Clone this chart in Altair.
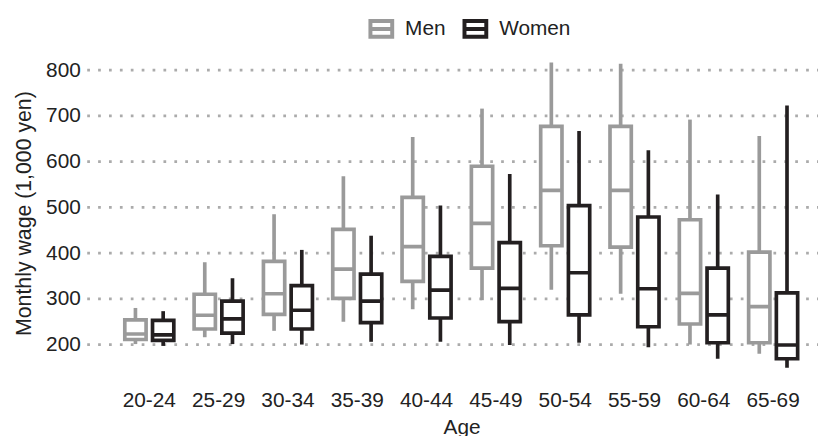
import altair as alt
import pandas as pd

ages = ["20-24", "25-29", "30-34", "35-39", "40-44", "45-49", "50-54", "55-59", "60-64", "65-69"]

men_min = [201, 216, 230, 250, 277, 297, 320, 311, 200, 180]
men_q1 = [211, 234, 266, 301, 338, 367, 416, 413, 245, 204]
men_med = [223, 264, 311, 365, 414, 465, 537, 537, 312, 283]
men_q3 = [254, 310, 382, 452, 522, 590, 677, 677, 473, 402]
men_max = [280, 380, 485, 568, 654, 716, 817, 814, 692, 656]

women_min = [197, 201, 200, 206, 206, 199, 204, 194, 169, 149]
women_q1 = [209, 225, 234, 248, 258, 250, 265, 239, 204, 169]
women_med = [221, 256, 275, 295, 319, 323, 357, 322, 265, 199]
women_q3 = [253, 295, 329, 354, 393, 423, 504, 479, 367, 313]
women_max = [273, 345, 407, 438, 504, 573, 667, 625, 528, 723]

sexes = ["Men", "Women"]
colors = ["#9a9a9a", "#231f20"]
y_ticks = [200, 300, 400, 500, 600, 700, 800]

rows = []
for i, a in enumerate(ages):
    rows.append(dict(age=a, sex="Men", lo=men_min[i], q1=men_q1[i], med=men_med[i], q3=men_q3[i], hi=men_max[i]))
for i, a in enumerate(ages):
    rows.append(dict(age=a, sex="Women", lo=women_min[i], q1=women_q1[i], med=women_med[i], q3=women_q3[i], hi=women_max[i]))
df = pd.DataFrame(rows)
grid_df = pd.DataFrame({"v": y_ticks})

FONT = "Liberation Sans"
FS = 21
W, H = 736, 344
SW = 3.7
BOXW = 21.5

x_enc = alt.X("age:N", sort=ages, title="Age",
              scale=alt.Scale(range=[27.7, 727.7], paddingInner=0, paddingOuter=0),
              axis=alt.Axis(labelAngle=0, ticks=False, domain=False, grid=False,
                            labelPadding=6, labelFontSize=FS, labelFont=FONT, labelColor="#222222",
                            titleFontSize=FS, titleFont=FONT, titleColor="#222222",
                            titleFontWeight="normal", titleX=378, titlePadding=7))
xo_enc = alt.XOffset("sex:N", sort=sexes, scale=alt.Scale(paddingInner=0, paddingOuter=0.25))
stroke_enc = alt.Stroke("sex:N", sort=sexes,
                        scale=alt.Scale(domain=sexes, range=colors),
                        legend=alt.Legend(title=None, orient="none", legendX=284, legendY=-27,
                                          direction="horizontal",
                                          symbolType="M-1,-0.72H1V0.72H-1Z M-1,0H1",
                                          symbolSize=484, symbolStrokeWidth=4,
                                          symbolFillColor="white",
                                          labelFontSize=FS, labelFont=FONT, labelColor="#222222",
                                          labelOffset=11, columnPadding=11))
y_scale = alt.Scale(domain=[115, 860], nice=False, zero=False)
y_axis = alt.Axis(values=y_ticks, ticks=False, domain=False, grid=False,
                  labelPadding=7, labelFontSize=FS, labelFont=FONT, labelColor="#222222",
                  title="Monthly wage (1,000 yen)", titleFontSize=21.5, titleFont=FONT,
                  titleColor="#222222", titleFontWeight="normal", titlePadding=10)

grid = alt.Chart(grid_df).mark_rule(strokeDash=[2.75, 8.25], strokeWidth=2.7, color="#ababab").encode(
    x=alt.value(0), x2=alt.value(W + 2),
    y=alt.Y("v:Q", scale=y_scale, axis=y_axis),
)
whisk = alt.Chart(df).mark_rule(strokeWidth=SW).encode(
    x=x_enc, xOffset=xo_enc,
    y=alt.Y("lo:Q", scale=y_scale, axis=y_axis),
    y2="hi:Q",
    stroke=stroke_enc,
)
box = alt.Chart(df).mark_bar(size=BOXW, fill="white", strokeWidth=SW).encode(
    x=x_enc, xOffset=xo_enc,
    y=alt.Y("q1:Q", scale=y_scale, axis=y_axis),
    y2="q3:Q",
    stroke=stroke_enc,
)
median = alt.Chart(df).mark_bar(size=BOXW, fill="white", strokeWidth=SW).encode(
    x=x_enc, xOffset=xo_enc,
    y=alt.Y("med:Q", scale=y_scale, axis=y_axis),
    y2="med:Q",
    stroke=stroke_enc,
)

chart = alt.layer(grid, whisk, box, median).properties(
    width=W, height=H,
    background="white",
    autosize=alt.AutoSizeParams(type="none"),
    padding={"left": 80, "top": 33, "right": 2, "bottom": 51},
).configure_view(strokeWidth=0, strokeOpacity=0)

chart.save("out.html", embed_options={"renderer": "svg", "actions": False})
